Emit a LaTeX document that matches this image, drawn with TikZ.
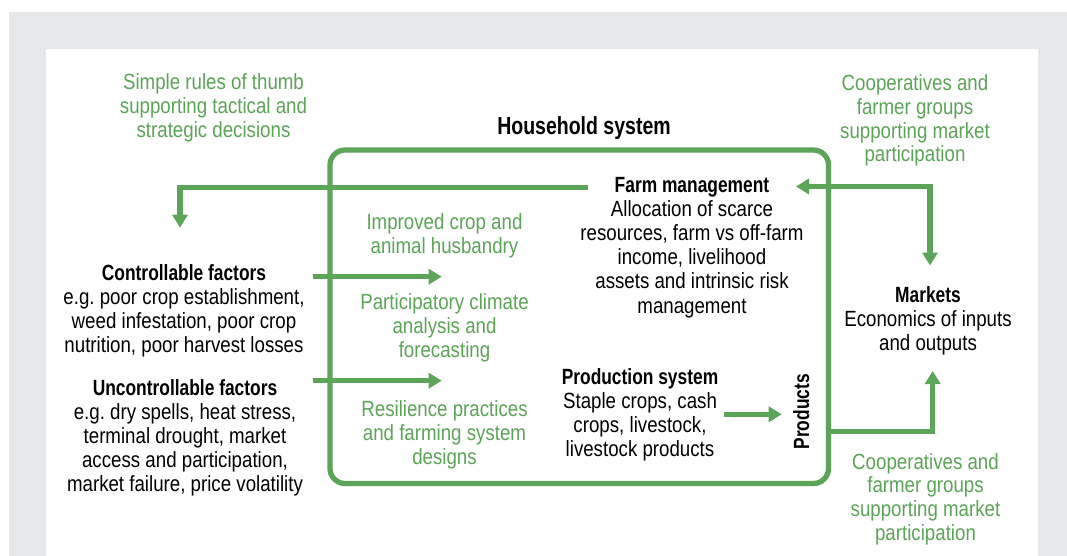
\documentclass[tikz,border=0pt]{standalone}
\usepackage{fontspec}
\setmainfont[FakeStretch=0.85, BoldFeatures={FakeStretch=0.79}]{Liberation Sans}
\usetikzlibrary{arrows.meta}
\definecolor{gr}{RGB}{92,164,88}
\definecolor{bgg}{RGB}{230,231,232}
\tikzset{gtip/.tip={Triangle[length=13pt,width=15pt]}}
\begin{document}
\begin{tikzpicture}[x=1pt,y=-1pt,
  txt/.style={align=center, inner sep=0pt, anchor=base, font=\fontsize{22}{23.9}\selectfont},
  gtxt/.style={txt, text=gr},
  ttl/.style={txt, font=\fontsize{22}{23.9}\selectfont\bfseries},
  arr/.style={draw=gr, line width=5.3pt, -{gtip}},
  arrtwo/.style={draw=gr, line width=5.3pt, {gtip}-{gtip}},
  hbox/.style={draw=gr, line width=5.3pt, rounded corners=15pt, inner sep=0pt}
]
\useasboundingbox (0,0) rectangle (1067,556);
\fill[bgg] (9,12) rectangle (1067,556);
\fill[white] (46,49) rectangle (1038,556);

% household box
\node[hbox, minimum width=498.5pt, minimum height=333.5pt] (hh) at (579.25,316.75) {};
\node[ttl, font=\fontsize{24.7}{26}\selectfont\bfseries] (hhtitle) at (584,135) {Household system};

% green texts outside (anchor = baseline of last line)
\node[gtxt] (rules) at (213.5,137.5) {Simple rules of thumb\\supporting tactical and\\strategic decisions};
\node[gtxt] (coopt) at (915,162) {Cooperatives and\\farmer groups\\supporting market\\participation};
\node[gtxt] (coopb) at (925.5,540.7) {Cooperatives and\\farmer groups\\supporting market\\participation};

% farm management
\node[txt, font=\fontsize{22}{24.2}\selectfont] (fm) at (692,313) {\textbf{Farm management}\\Allocation of scarce\\resources, farm vs off-farm\\income, livelihood\\assets and intrinsic risk\\management};

% markets
\node[txt] (mkt) at (928,350) {\textbf{Markets}\\Economics of inputs\\and outputs};

% production system
\node[txt, font=\fontsize{22}{23.7}\selectfont] (prod) at (640,456) {\textbf{Production system}\\Staple crops, cash\\crops, livestock,\\livestock products};

% products
\node[ttl, rotate=90] (products) at (809,411.7) {Products};

% controllable / uncontrollable
\node[txt] (ctrl) at (184,352) {\textbf{Controllable factors}\\e.g.\ poor crop establishment,\\weed infestation, poor crop\\nutrition, poor harvest losses};
\node[txt] (unc) at (185,491) {\textbf{Uncontrollable factors}\\e.g.\ dry spells, heat stress,\\terminal drought, market\\access and participation,\\market failure, price volatility};

% inner green texts
\node[gtxt] (improved) at (444.5,253) {Improved crop and\\animal husbandry};
\node[gtxt] (particip) at (444.5,357) {Participatory climate\\analysis and\\forecasting};
\node[gtxt] (resil) at (444.5,464) {Resilience practices\\and farming system\\designs};

% connector coordinates
\coordinate (fmleft) at (588,187.5);
\coordinate (ctrltip) at (180,227.7);
\coordinate (fmright) at (796,186.5);
\coordinate (mkttop) at (930,265.5);
\coordinate (pout) at (828.5,431.7);
\coordinate (mktbot) at (932.7,371);
\coordinate (c1s) at (312.7,276.7);
\coordinate (c1e) at (441.7,276.7);
\coordinate (c2s) at (312.7,380.7);
\coordinate (c2e) at (441.7,380.7);
\coordinate (ps) at (724,414.3);
\coordinate (pe) at (781.7,414.3);

% connectors
\draw[arr] (fmleft) -| (ctrltip);
\draw[arrtwo] (fmright) -| (mkttop);
\draw[arr] (pout) -| (mktbot);
\draw[arr] (c1s) -- (c1e);
\draw[arr] (c2s) -- (c2e);
\draw[arr] (ps) -- (pe);
\end{tikzpicture}
\end{document}
